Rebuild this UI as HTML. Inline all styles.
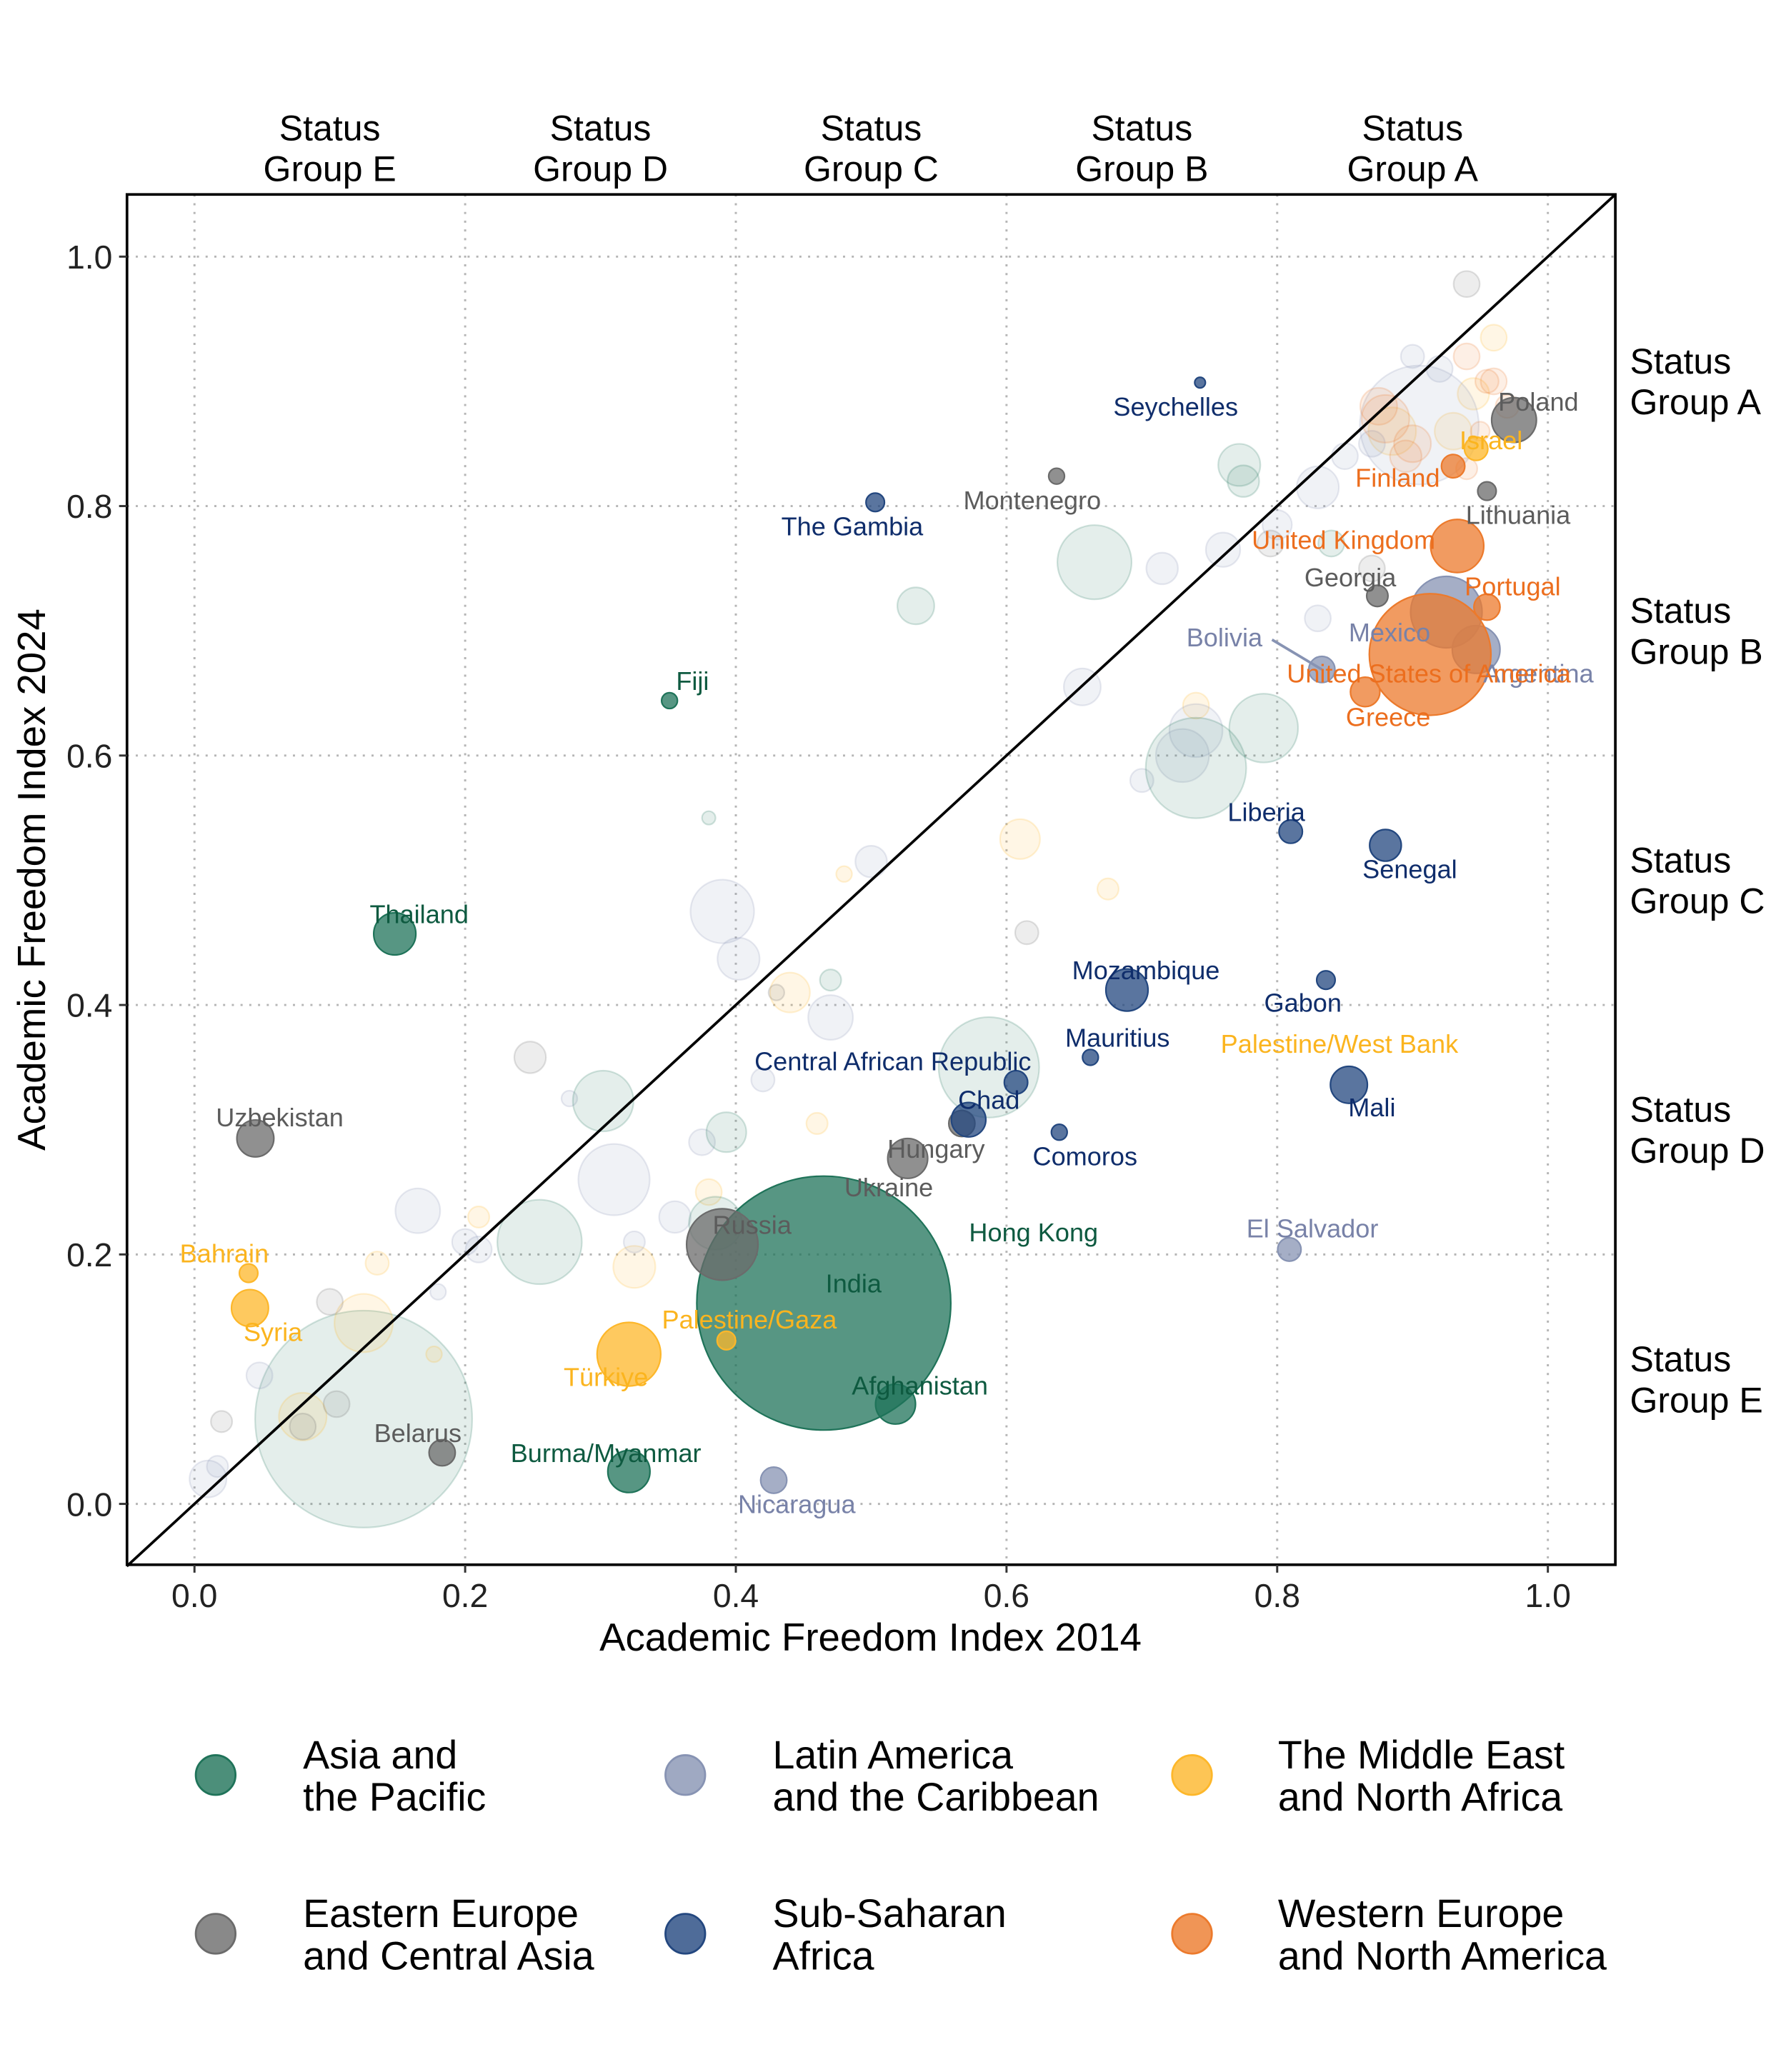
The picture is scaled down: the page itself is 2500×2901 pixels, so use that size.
<!DOCTYPE html>
<html><head><meta charset="utf-8">
<style>
html,body{margin:0;padding:0;background:#fff;}
svg{display:block;font-family:"Liberation Sans",Arial,sans-serif;}
</style></head>
<body>
<svg id="chart" width="2500" height="2901" viewBox="0 0 1350 1566.5" xmlns="http://www.w3.org/2000/svg"></svg>
<script>
// ---- data ----
const regions = ["Asia and the Pacific","Latin America and the Caribbean","The Middle East and North Africa","Eastern Europe and Central Asia","Sub-Saharan Africa","Western Europe and North America"];
const regionColors = ["#1f7359","#8793b3","#fdb72a","#6b6b6b","#23477f","#ec7a2c"];
const hlNames = ["Thailand","Fiji","Burma/Myanmar","India","Afghanistan","Uzbekistan","Belarus","Russia","Hungary","Ukraine","Montenegro","Georgia","Poland","Lithuania","Bolivia","Mexico","Argentina","El Salvador","Nicaragua","Seychelles","The Gambia","Liberia","Senegal","Mozambique","Gabon","Mauritius","Central African Republic","Chad","Comoros","Mali","Bahrain","Syria","Türkiye","Palestine/Gaza","Israel","Finland","United Kingdom","Portugal","United States of America","Greece"];
const hlRegion = [0,0,0,0,0,3,3,3,3,3,3,3,3,3,1,1,1,1,1,4,4,4,4,4,4,4,4,4,4,4,2,2,2,2,2,5,5,5,5,5];
const hlX2014 = [0.148,0.351,0.321,0.465,0.518,0.045,0.183,0.390,0.527,0.567,0.637,0.874,0.975,0.955,0.833,0.925,0.947,0.809,0.428,0.743,0.503,0.810,0.880,0.689,0.836,0.662,0.607,0.572,0.639,0.853,0.040,0.041,0.321,0.393,0.947,0.930,0.933,0.955,0.913,0.865];
const hlY2024 = [0.457,0.644,0.026,0.161,0.080,0.293,0.041,0.208,0.277,0.305,0.824,0.728,0.869,0.812,0.669,0.715,0.685,0.204,0.019,0.899,0.803,0.539,0.528,0.412,0.420,0.358,0.338,0.308,0.298,0.336,0.185,0.157,0.120,0.131,0.846,0.832,0.768,0.719,0.681,0.651];
const hlPop = [39,5.5,39,1417,35,30,15,112,35,15,5.5,10,44,7.5,15,112,50,12,15,2.5,7.5,12,22,39,7.5,5.5,12,26,5.5,30,7.5,30,89,7.5,12,12,62,15,325,19];
const hlLabelX = [0.166,0.368,0.304,0.487,0.536,0.063,0.165,0.412,0.548,0.513,0.619,0.854,0.993,0.978,0.761,0.883,0.993,0.826,0.445,0.725,0.486,0.792,0.898,0.703,0.819,0.682,0.516,0.587,0.658,0.870,0.022,0.058,0.304,0.410,0.958,0.889,0.849,0.974,0.912,0.882];
const hlLabelY = [0.473,0.660,0.041,0.177,0.095,0.310,0.057,0.224,0.285,0.254,0.805,0.743,0.884,0.793,0.695,0.699,0.666,0.221,0.000,0.880,0.784,0.555,0.509,0.428,0.402,0.374,0.355,0.324,0.279,0.318,0.201,0.138,0.102,0.148,0.853,0.823,0.773,0.736,0.666,0.631];
const extraNames = ["Hong Kong","Palestine/West Bank"];
const extraRegion = [0,2];
const extraLabelX = [0.620,0.846];
const extraLabelY = [0.218,0.369];
const bgRegion = [0,2,2,2,2,2,2,2,2,2,2,2,2,2,2,2,2,2,3,3,3,3,3,3,3,3,3,3,1,1,1,1,1,1,1,1,1,1,1,1,1,1,1,1,1,1,1,1,1,1,1,1,1,1,1,1,1,1,1,0,0,0,0,0,0,0,0,0,0,0,0,0,0,5,5,5,5,5,5,5,5,5,5,5];
const bgX = [0.125,0.080,0.125,0.135,0.210,0.177,0.380,0.325,0.440,0.460,0.480,0.610,0.675,0.740,0.885,0.930,0.960,0.945,0.100,0.020,0.080,0.105,0.248,0.430,0.615,0.940,0.870,0.795,0.165,0.200,0.210,0.048,0.017,0.010,0.310,0.355,0.375,0.390,0.402,0.470,0.500,0.420,0.325,0.180,0.277,0.656,0.700,0.730,0.740,0.715,0.760,0.800,0.830,0.830,0.850,0.870,0.905,0.900,0.920,0.255,0.302,0.393,0.385,0.533,0.665,0.587,0.740,0.790,0.772,0.775,0.840,0.380,0.470,0.880,0.900,0.940,0.955,0.970,0.875,0.895,0.960,0.940,0.950];
const bgY = [0.068,0.070,0.145,0.193,0.230,0.120,0.250,0.190,0.410,0.305,0.505,0.533,0.493,0.640,0.860,0.860,0.935,0.890,0.162,0.066,0.062,0.080,0.358,0.410,0.458,0.978,0.750,0.770,0.235,0.210,0.204,0.103,0.030,0.020,0.260,0.230,0.290,0.475,0.437,0.390,0.515,0.340,0.210,0.170,0.325,0.655,0.580,0.600,0.620,0.750,0.765,0.785,0.815,0.710,0.840,0.850,0.865,0.920,0.910,0.210,0.323,0.298,0.225,0.720,0.755,0.350,0.590,0.622,0.833,0.820,0.770,0.550,0.420,0.870,0.850,0.920,0.900,0.880,0.880,0.840,0.900,0.830,0.860];
const bgPop = [1035,50,75,12,10,5.5,15,39,35,10,5.5,35,10,15,50,30,15,22,15,10,15,15,22,5.5,12,15,15,15,44,15,15,15,10,30,112,22,15,89,39,44,22,12,10,5.5,5.5,30,12,62,62,22,26,19,39,15,15,15,311,12,15,157,81,35,62,30,121,222,222,104,39,22,15,4,10,50,30,15,12,12,30,22,15,10,8];

// ---- geometry ----
const svg = document.getElementById('chart');
const NS = "http://www.w3.org/2000/svg";
const L=96,R=1221,T=147,B=1183;
const sx = v => 147 + v*1023;
const sy = v => 1137 - v*943;
const rr = p => 2.55*Math.sqrt(p);
function mk(tag, attrs, parent){const e=document.createElementNS(NS,tag);for(const k in attrs)e.setAttribute(k,attrs[k]);(parent||svg).appendChild(e);return e;}

const gridG = mk('g',{});


const ticks=[0,0.2,0.4,0.6,0.8,1.0];
const tickLabels=["0.0","0.2","0.4","0.6","0.8","1.0"];
ticks.forEach(t=>{
  mk('line',{x1:sx(t),x2:sx(t),y1:T,y2:B,stroke:'#b5b5b5','stroke-width':1.6,'stroke-dasharray':'1.6 5'},gridG);
  mk('line',{x1:L,x2:R,y1:sy(t),y2:sy(t),stroke:'#b5b5b5','stroke-width':1.6,'stroke-dasharray':'1.6 5'},gridG);
});

const bgG = mk('g',{});


bgX.forEach((x,i)=>{
  const c = mk('circle',{cx:sx(x),cy:sy(bgY[i]),r:rr(bgPop[i]),fill:regionColors[bgRegion[i]],'fill-opacity':0.12,stroke:regionColors[bgRegion[i]],'stroke-opacity':0.2,'stroke-width':1.2},bgG);
  
  
});

const diag = mk('line',{x1:sx(-0.05),y1:sy(-0.05),x2:sx(1.05),y2:sy(1.05),stroke:'#000','stroke-width':2});



const hlG = mk('g',{});


hlX2014.forEach((x,i)=>{
  const col=regionColors[hlRegion[i]];
  const c = mk('circle',{cx:sx(x),cy:sy(hlY2024[i]),r:rr(hlPop[i]),fill:col,'fill-opacity':0.75,stroke:col,'stroke-width':1.2},hlG);
  
  
});
const bi = hlNames.indexOf("Bolivia");
mk('line',{x1:sx(hlLabelX[bi])+36,y1:sy(hlLabelY[bi])+2,x2:sx(hlX2014[bi]),y2:sy(hlY2024[bi]),stroke:regionColors[1],'stroke-width':2});

const lblG = mk('g',{'font-size':19.5,'text-anchor':'middle'});


const labelColors = ["#0e5a40","#7882a8","#fbb41e","#5c5c5c","#0f2d6b","#ec6e1e"];
hlNames.forEach((n,i)=>{
  const t = mk('text',{x:sx(hlLabelX[i]),y:sy(hlLabelY[i])+7,fill:labelColors[hlRegion[i]]},lblG);
  t.textContent=n;
  
  
});
extraNames.forEach((n,i)=>{
  const t = mk('text',{x:sx(extraLabelX[i]),y:sy(extraLabelY[i])+7,fill:labelColors[extraRegion[i]]},lblG);
  t.textContent=n;
  
  
});

const frame = mk('rect',{x:L,y:T,width:R-L,height:B-T,fill:'none',stroke:'#000','stroke-width':2});



const axG = mk('g',{'font-size':25,fill:'#222'});


ticks.forEach((t,i)=>{
  mk('line',{x1:sx(t),x2:sx(t),y1:B,y2:B+6,stroke:'#333','stroke-width':1.6},axG);
  mk('line',{x1:L-6,x2:L,y1:sy(t),y2:sy(t),stroke:'#333','stroke-width':1.6},axG);
  const tx = mk('text',{x:sx(t),y:B+32,'text-anchor':'middle'},axG);
  tx.textContent=tickLabels[i];
  
  
  const ty = mk('text',{x:L-11,y:sy(t)+9,'text-anchor':'end'},axG);
  ty.textContent=tickLabels[i];
  
  
});
const xt = mk('text',{x:658,y:1248,'text-anchor':'middle','font-size':29.5,fill:'#000'});
xt.textContent="Academic Freedom Index 2014";


const yt = mk('text',{x:0,y:0,'text-anchor':'middle','font-size':29.5,fill:'#000',transform:'translate(34,665) rotate(-90)'});
yt.textContent="Academic Freedom Index 2024";



const groups=["E","D","C","B","A"];
const groupCenters=[0.1,0.3,0.5,0.7,0.9];
groups.forEach((g,i)=>{
  const t = mk('text',{x:sx(groupCenters[i]),y:106,'text-anchor':'middle','font-size':27,fill:'#000'});
  
  
  mk('tspan',{x:sx(groupCenters[i]),dy:0},t).textContent="Status";
  mk('tspan',{x:sx(groupCenters[i]),dy:31},t).textContent="Group "+g;
  const r = mk('text',{x:1232,y:sy(groupCenters[i])-6,'font-size':27,fill:'#000'});
  
  
  mk('tspan',{x:1232,dy:0},r).textContent="Status";
  mk('tspan',{x:1232,dy:31},r).textContent="Group "+g;
});

const legG = mk('g',{'font-size':30,fill:'#000'});


const legOrder=[0,1,2,3,4,5];
const legLines=[["Asia and","the Pacific"],["Latin America","and the Caribbean"],["The Middle East","and North Africa"],["Eastern Europe","and Central Asia"],["Sub-Saharan","Africa"],["Western Europe","and North America"]];
const legCX=[163,518,901];
const legTX=[229,584,966];
legOrder.forEach((ri,k)=>{
  const col=k%3,row=Math.floor(k/3);
  const cy=1342+row*120;
  const e = mk('g',{},legG);
  
  
  mk('circle',{cx:legCX[col],cy:cy,r:15,fill:regionColors[ri],'fill-opacity':0.8,stroke:regionColors[ri],'stroke-width':1.5},e);
  const t=mk('text',{x:legTX[col],y:cy-5},e);
  mk('tspan',{x:legTX[col],dy:0},t).textContent=legLines[k][0];
  mk('tspan',{x:legTX[col],dy:32},t).textContent=legLines[k][1];
});
</script>
</body></html>
